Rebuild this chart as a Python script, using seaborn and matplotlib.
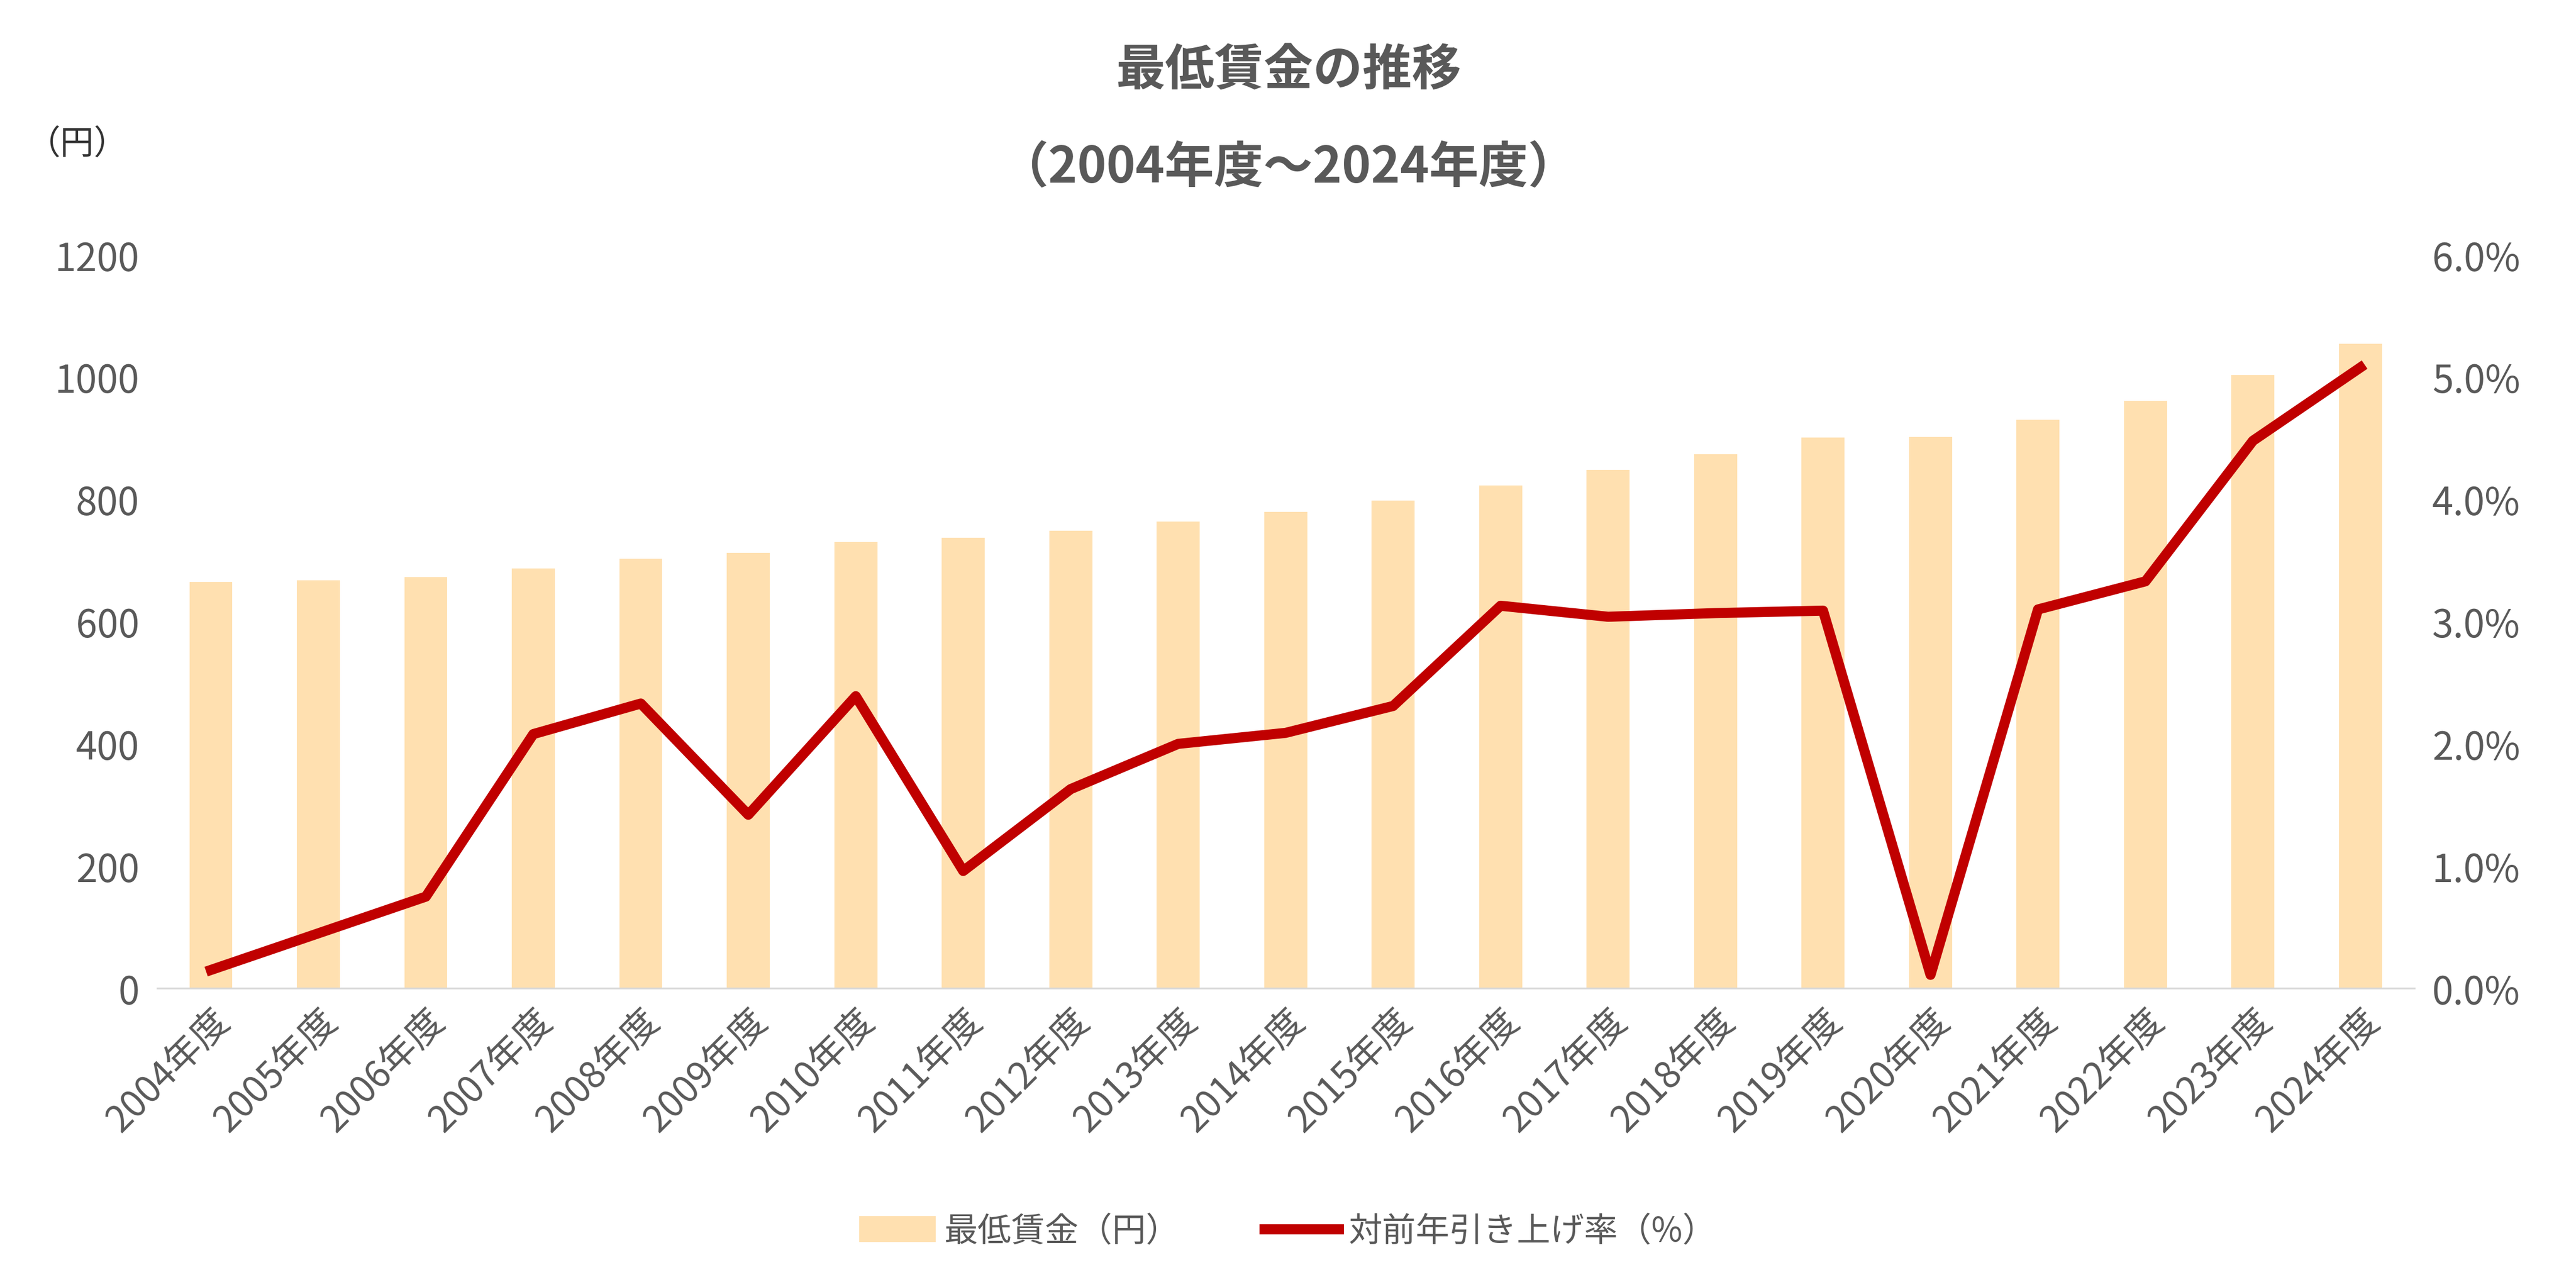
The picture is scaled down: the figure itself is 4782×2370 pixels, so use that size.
import numpy as np
import pandas as pd
import matplotlib
matplotlib.use("Agg")
import matplotlib.pyplot as plt
import seaborn as sns
from matplotlib.ticker import FuncFormatter
from matplotlib.lines import Line2D
from matplotlib.patches import Patch

plt.rcParams["font.family"] = "Noto Sans CJK JP"

years = [f"{y}年度" for y in range(2004, 2025)]
wage = [665, 668, 673, 687, 703, 713, 730, 737, 749, 764, 780,
        798, 823, 848, 874, 901, 902, 930, 961, 1004, 1055]
rate = [0.15, 0.45, 0.75, 2.08, 2.33, 1.42, 2.39, 0.96, 1.63, 2.00, 2.09,
        2.31, 3.13, 3.04, 3.07, 3.09, 0.11, 3.10, 3.33, 4.48, 5.08]

GREY = "#595959"
BAR = "#FFE0B0"
RED = "#C00000"

df = pd.DataFrame({"year": years, "wage": wage, "rate": rate, "pos": np.arange(len(years))})

fig = plt.figure(figsize=(15.943, 7.903), dpi=300)
ax = fig.add_axes([0.061, 0.226, 0.876, 0.574])
sns.barplot(data=df, x="year", y="wage", color=BAR, width=0.4, saturation=1, ax=ax)
ax.set_ylim(0, 1200)
ax.set_yticks(range(0, 1201, 200))
ax.set_xlim(-0.5, len(years) - 0.5)

ax2 = ax.twinx()
sns.lineplot(data=df, x="pos", y="rate", color=RED, linewidth=4.5, ax=ax2)
ax2.set_ylim(0, 6)
ax2.set_yticks(np.arange(0, 6.01, 1))
ax2.yaxis.set_major_formatter(FuncFormatter(lambda v, p: f"{v:.1f}%"))

for a in (ax, ax2):
    for s in a.spines.values():
        s.set_visible(False)
    a.set_xlabel("")
    a.set_ylabel("")
    a.tick_params(length=0, labelsize=17, colors=GREY, pad=8)
ax.spines["bottom"].set_visible(True)
ax.spines["bottom"].set_color("#D9D9D9")
ax.tick_params(axis="x", rotation=45, labelsize=16.5, pad=6)
for lbl in ax.get_xticklabels():
    lbl.set_ha("right")
    lbl.set_rotation_mode("anchor")

fig.text(0.5, 0.945, "最低賃金の推移", ha="center", va="center",
         fontsize=22, fontweight="bold", color=GREY)
fig.text(0.5, 0.868, "（2004年度～2024年度）", ha="center", va="center",
         fontsize=22, fontweight="bold", color=GREY)
fig.text(0.03, 0.887, "（円）", ha="center", va="center", fontsize=15, color="#333333")

handles = [Patch(color=BAR, label="最低賃金（円）"),
           Line2D([0], [0], color=RED, lw=4.5, label="対前年引き上げ率（%）")]
fig.legend(handles=handles, loc="center", bbox_to_anchor=(0.5, 0.036), ncol=2,
           frameon=False, fontsize=15, labelcolor=GREY, columnspacing=2.5,
           handlelength=2.2, handletextpad=0.3)

fig.savefig("out.png", dpi=300)
